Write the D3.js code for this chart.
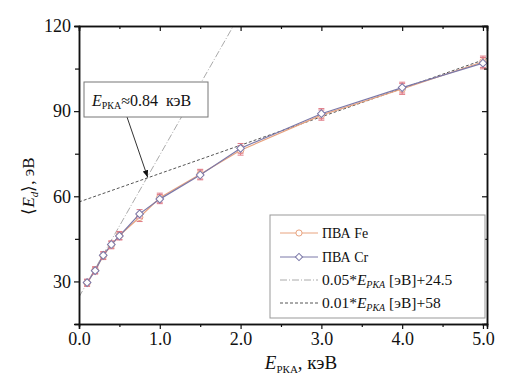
<!DOCTYPE html>
<html>
<head>
<meta charset="utf-8">
<script src="https://cdn.jsdelivr.net/npm/d3@7"></script>
<style>
  body { margin: 0; background: #fff; }
  text { font-family: "Liberation Serif", "Times New Roman", serif; fill: #111; }
</style>
</head>
<body>
<svg id="chart" width="512" height="390"></svg>
<script>
// Values
var energies = [0.1, 0.2, 0.3, 0.4, 0.5, 0.75, 1.0, 1.5, 2.0, 3.0, 4.0, 5.0];
var feValues = [29.5, 34.0, 39.0, 42.8, 46.2, 52.6, 59.5, 67.8, 76.2, 88.6, 97.8, 107.4];
var crValues = [29.6, 33.8, 39.2, 43.0, 46.0, 53.8, 59.0, 67.5, 76.9, 89.1, 98.3, 106.9];
var feErrors = [1.2, 1.2, 1.3, 1.3, 1.4, 1.5, 1.6, 1.7, 1.7, 1.8, 1.9, 2.0];
var crErrors = [1.2, 1.2, 1.3, 1.3, 1.4, 1.5, 1.6, 1.7, 1.7, 1.8, 1.9, 2.0];
var xTicks = [0, 1, 2, 3, 4, 5];
var xMinor = [0.5, 1.5, 2.5, 3.5, 4.5];
var yTicks = [30, 60, 90, 120];
var yMinor = [45, 75, 105];
var fitSteep = { slope: 50, intercept: 24.5 };   // 0.05*E[eV]+24.5, E in keV
var fitFlat = { slope: 10, intercept: 58 };      // 0.01*E[eV]+58
var crossLabel = "0.84";

var feColor = "#e8a37f", crColor = "#7b78a8", errColor = "#e07a86";
var serif = "'Liberation Serif', 'Times New Roman', serif";

var svg = d3.select("#chart");
var pLeft = 79, pRight = 487, pTop = 26, pBottom = 324;

var x = d3.scaleLinear().domain([0, 5.05]).range([pLeft, pRight]);
var y = d3.scaleLinear().domain([15, 120]).range([pBottom, pTop]);

svg.append("clipPath").attr("id", "clip")
  .append("rect").attr("x", pLeft).attr("y", pTop)
  .attr("width", pRight - pLeft).attr("height", pBottom - pTop);

var plot = svg.append("g").attr("clip-path", "url(#clip)");

// fit lines
var steepEnd = (120 - fitSteep.intercept) / fitSteep.slope;
plot.append("line")
  .attr("x1", x(0)).attr("y1", y(fitSteep.intercept))
  .attr("x2", x(steepEnd)).attr("y2", y(120))
  .style("stroke", "#aaa").style("stroke-width", 1)
  .style("stroke-dasharray", "7,2,1,2");

plot.append("line")
  .attr("x1", x(0)).attr("y1", y(fitFlat.intercept))
  .attr("x2", x(5.05)).attr("y2", y(fitFlat.intercept + fitFlat.slope * 5.05))
  .style("stroke", "#555").style("stroke-width", 1)
  .style("stroke-dasharray", "3,2");

// series
function drawSeries(values, errors, color, shape) {
  var pts = energies.map(function(e, i) { return { e: e, v: values[i], err: errors[i] }; });
  var line = d3.line().x(function(d) { return x(d.e); }).y(function(d) { return y(d.v); });
  plot.append("path").datum(pts).attr("d", line)
    .style("fill", "none").style("stroke", color).style("stroke-width", 1.2);

  var g = plot.append("g");
  pts.forEach(function(d) {
    var cx = x(d.e), yl = y(d.v - d.err), yh = y(d.v + d.err);
    g.append("line").attr("x1", cx).attr("x2", cx).attr("y1", yl).attr("y2", yh)
      .style("stroke", errColor).style("stroke-width", 1);
    [yl, yh].forEach(function(yy) {
      g.append("line").attr("x1", cx - 3).attr("x2", cx + 3).attr("y1", yy).attr("y2", yy)
        .style("stroke", errColor).style("stroke-width", 1);
    });
  });
  g.selectAll("path.mark").data(pts).enter().append("path")
    .attr("d", d3.symbol().type(shape).size(shape === d3.symbolCircle ? 34 : 30))
    .attr("transform", function(d) {
      return "translate(" + x(d.e) + "," + y(d.v) + ")" + (shape === d3.symbolSquare ? " rotate(45)" : "");
    })
    .style("fill", "#fff").style("stroke", color).style("stroke-width", 1);
}
drawSeries(feValues, feErrors, feColor, d3.symbolCircle);
drawSeries(crValues, crErrors, crColor, d3.symbolSquare);

// axes
var fmt = d3.format(".1f");
var axes = [];
axes.push(svg.append("g").attr("transform", "translate(0," + pBottom + ")")
  .call(d3.axisBottom(x).tickValues(xTicks).tickFormat(fmt).tickSize(5).tickPadding(3)));
axes.push(svg.append("g").attr("transform", "translate(0," + pBottom + ")")
  .call(d3.axisBottom(x).tickValues(xMinor).tickFormat("").tickSize(3)));
axes.push(svg.append("g").attr("transform", "translate(0," + pTop + ")")
  .call(d3.axisBottom(x).tickValues(xTicks).tickFormat("").tickSize(5)));
axes.push(svg.append("g").attr("transform", "translate(0," + pTop + ")")
  .call(d3.axisBottom(x).tickValues(xMinor).tickFormat("").tickSize(3)));
axes.push(svg.append("g").attr("transform", "translate(" + pLeft + ",0)")
  .call(d3.axisLeft(y).tickValues(yTicks).tickSize(5).tickPadding(3)));
axes.push(svg.append("g").attr("transform", "translate(" + pLeft + ",0)")
  .call(d3.axisLeft(y).tickValues(yMinor).tickFormat("").tickSize(4)));
axes.push(svg.append("g").attr("transform", "translate(" + pRight + ",0)")
  .call(d3.axisLeft(y).tickValues(yTicks).tickFormat("").tickSize(5)));
axes.push(svg.append("g").attr("transform", "translate(" + pRight + ",0)")
  .call(d3.axisLeft(y).tickValues(yMinor).tickFormat("").tickSize(3)));
axes.forEach(function(a) { a.attr("font-family", serif).attr("font-size", 18); });

svg.selectAll(".domain").style("stroke", "#111").style("stroke-width", 1.5);
svg.selectAll(".tick line").style("stroke", "#111").style("stroke-width", 1.2);
svg.selectAll(".tick text").style("font-size", "18px")
  .style("font-family", serif).style("fill", "#111");

// axis titles
var xt = svg.append("text").attr("x", 301).attr("y", 369)
  .attr("text-anchor", "middle").style("font-size", "19px");
xt.append("tspan").style("font-style", "italic").text("E");
xt.append("tspan").attr("dy", 4).style("font-size", "11px").text("РКА");
xt.append("tspan").attr("dy", -4).text(", кэВ");

var yt = svg.append("text").attr("transform", "translate(34,186) rotate(-90)")
  .attr("text-anchor", "middle").style("font-size", "17px");
yt.append("tspan").text("\u27E8");
yt.append("tspan").style("font-style", "italic").text("E");
yt.append("tspan").attr("dy", 4).style("font-size", "11px").style("font-style", "italic").text("d");
yt.append("tspan").attr("dy", -4).text("\u27E9, эВ");

// annotation
var crossE = (fitFlat.intercept - fitSteep.intercept) / (fitSteep.slope - fitFlat.slope);
var crossV = fitFlat.intercept + fitFlat.slope * crossE;
svg.append("defs").append("marker").attr("id", "arrow")
  .attr("viewBox", "0 0 10 10").attr("refX", 10).attr("refY", 5)
  .attr("markerWidth", 7).attr("markerHeight", 7).attr("orient", "auto")
  .append("path").attr("d", "M0,1 L10,5 L0,9 Z").style("fill", "#111");
svg.append("line").attr("x1", 127).attr("y1", 117)
  .attr("x2", x(crossE) + 1).attr("y2", y(crossV) - 1)
  .style("stroke", "#333").style("stroke-width", 1).attr("marker-end", "url(#arrow)");
svg.append("rect").attr("x", 84).attr("y", 82).attr("width", 124).attr("height", 35)
  .style("fill", "#fff").style("stroke", "#777").style("stroke-width", 1);
var at = svg.append("text").attr("x", 92).attr("y", 106).style("font-size", "16px");
at.append("tspan").style("font-style", "italic").text("E");
at.append("tspan").attr("dy", 3).style("font-size", "10px").text("РКА");
at.append("tspan").attr("dy", -3).text("\u2248" + crossLabel + "\u00A0\u00A0кэВ");

// legend
var legend = svg.append("g");
legend.append("rect").attr("x", 270).attr("y", 215).attr("width", 215).attr("height", 103)
  .style("fill", "#fff").style("stroke", "#999").style("stroke-width", 1);
var rows = [233, 257, 280, 303];
function legendLine(yy, color, dash) {
  legend.append("line").attr("x1", 280).attr("x2", 318).attr("y1", yy).attr("y2", yy)
    .style("stroke", color).style("stroke-width", 1).style("stroke-dasharray", dash);
}
legendLine(rows[0], feColor, null);
legend.append("path").attr("d", d3.symbol().type(d3.symbolCircle).size(30))
  .attr("transform", "translate(299," + rows[0] + ")")
  .style("fill", "#fff").style("stroke", feColor);
legendLine(rows[1], crColor, null);
legend.append("path").attr("d", d3.symbol().type(d3.symbolSquare).size(26))
  .attr("transform", "translate(299," + rows[1] + ") rotate(45)")
  .style("fill", "#fff").style("stroke", crColor);
legendLine(rows[2], "#aaa", "7,2,1,2");
legendLine(rows[3], "#555", "3,2");

function legendText(yy, size) {
  return legend.append("text").attr("x", 322).attr("y", yy + 5).style("font-size", size);
}
legendText(rows[0], "14px").text("ПВА Fe");
legendText(rows[1], "14px").text("ПВА Cr");
[["0.05*", "[эВ]+24.5"], ["0.01*", "[эВ]+58"]].forEach(function(p, i) {
  var t = legendText(rows[2 + i], "15.5px");
  t.append("tspan").text(p[0]);
  t.append("tspan").style("font-style", "italic").text("E");
  t.append("tspan").attr("dy", 3).style("font-style", "italic").style("font-size", "10px").text("РКА");
  t.append("tspan").attr("dy", -3).text("\u00A0" + p[1]);
});
</script>
</body>
</html>
